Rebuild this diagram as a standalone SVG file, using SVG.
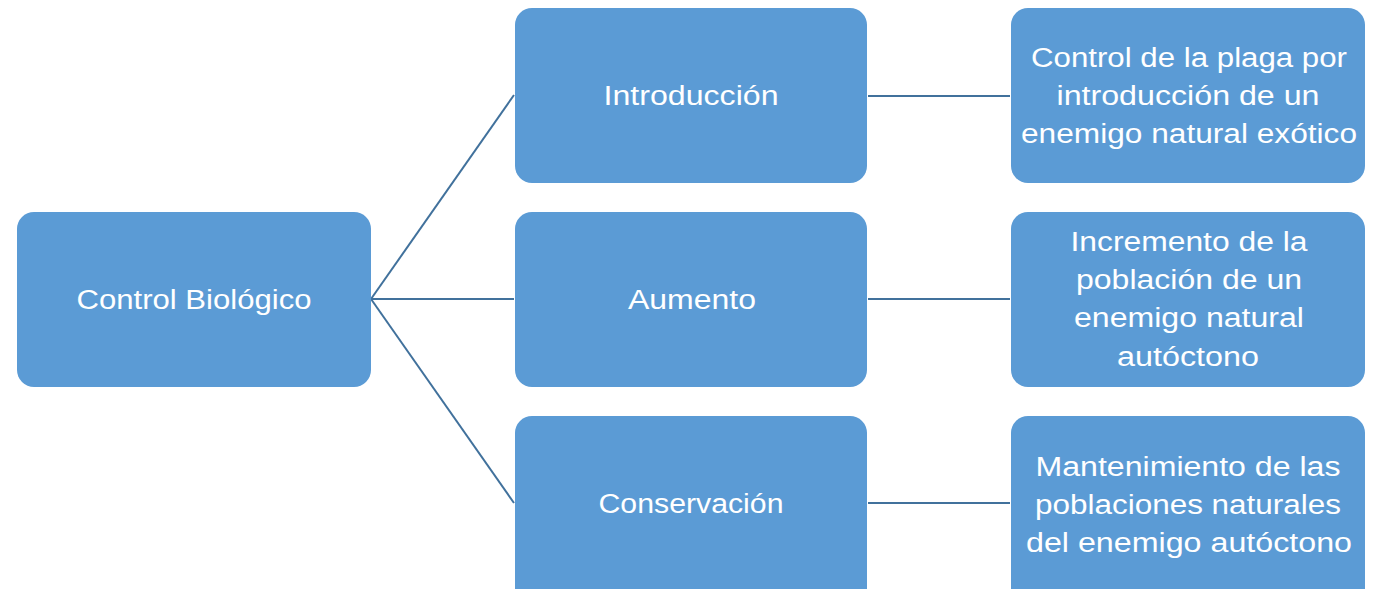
<svg xmlns="http://www.w3.org/2000/svg" width="1381" height="589" viewBox="0 0 1381 589">
<style>
.box{fill:#5B9BD5;}
.t{font-family:"Liberation Sans",Arial,sans-serif;font-size:27px;fill:#FFFFFF;text-anchor:middle;}
.c{stroke:#41719C;stroke-width:2;fill:none;}
</style>
<rect width="1381" height="589" fill="#FFFFFF"/>
<g id="connectors">
<line class="c" x1="371" y1="299" x2="514" y2="95"/>
<line class="c" x1="371" y1="299" x2="514" y2="299"/>
<line class="c" x1="371" y1="299" x2="514" y2="503"/>
<line class="c" x1="868" y1="96" x2="1010" y2="96"/>
<line class="c" x1="868" y1="299" x2="1010" y2="299"/>
<line class="c" x1="868" y1="503" x2="1010" y2="503"/>
</g>
<g id="root">
<rect class="box" x="17" y="212" width="354" height="175" rx="17"/>
<text class="t" x="194" y="309" textLength="235" lengthAdjust="spacingAndGlyphs">Control Biológico</text>
</g>
<g id="introduccion">
<rect class="box" x="515" y="8" width="352" height="175" rx="17"/>
<text class="t" x="691" y="105" textLength="175" lengthAdjust="spacingAndGlyphs">Introducción</text>
</g>
<g id="aumento">
<rect class="box" x="515" y="212" width="352" height="175" rx="17"/>
<text class="t" x="692" y="309" textLength="128" lengthAdjust="spacingAndGlyphs">Aumento</text>
</g>
<g id="conservacion">
<rect class="box" x="515" y="416" width="352" height="190" rx="17"/>
<text class="t" x="691" y="513" textLength="185" lengthAdjust="spacingAndGlyphs">Conservación</text>
</g>
<g id="desc-introduccion">
<rect class="box" x="1011" y="8" width="354" height="175" rx="17"/>
<text class="t" x="1189" y="67" textLength="316" lengthAdjust="spacingAndGlyphs">Control de la plaga por</text>
<text class="t" x="1188" y="105" textLength="263" lengthAdjust="spacingAndGlyphs">introducción de un</text>
<text class="t" x="1189" y="143" textLength="336" lengthAdjust="spacingAndGlyphs">enemigo natural exótico</text>
</g>
<g id="desc-aumento">
<rect class="box" x="1011" y="212" width="354" height="175" rx="17"/>
<text class="t" x="1189" y="251" textLength="237" lengthAdjust="spacingAndGlyphs">Incremento de la</text>
<text class="t" x="1189" y="289" textLength="226" lengthAdjust="spacingAndGlyphs">población de un</text>
<text class="t" x="1189" y="327" textLength="230" lengthAdjust="spacingAndGlyphs">enemigo natural</text>
<text class="t" x="1188" y="366" textLength="142" lengthAdjust="spacingAndGlyphs">autóctono</text>
</g>
<g id="desc-conservacion">
<rect class="box" x="1011" y="416" width="354" height="190" rx="17"/>
<text class="t" x="1188" y="476" textLength="305" lengthAdjust="spacingAndGlyphs">Mantenimiento de las</text>
<text class="t" x="1188" y="514" textLength="306" lengthAdjust="spacingAndGlyphs">poblaciones naturales</text>
<text class="t" x="1189" y="552" textLength="326" lengthAdjust="spacingAndGlyphs">del enemigo autóctono</text>
</g>
</svg>
